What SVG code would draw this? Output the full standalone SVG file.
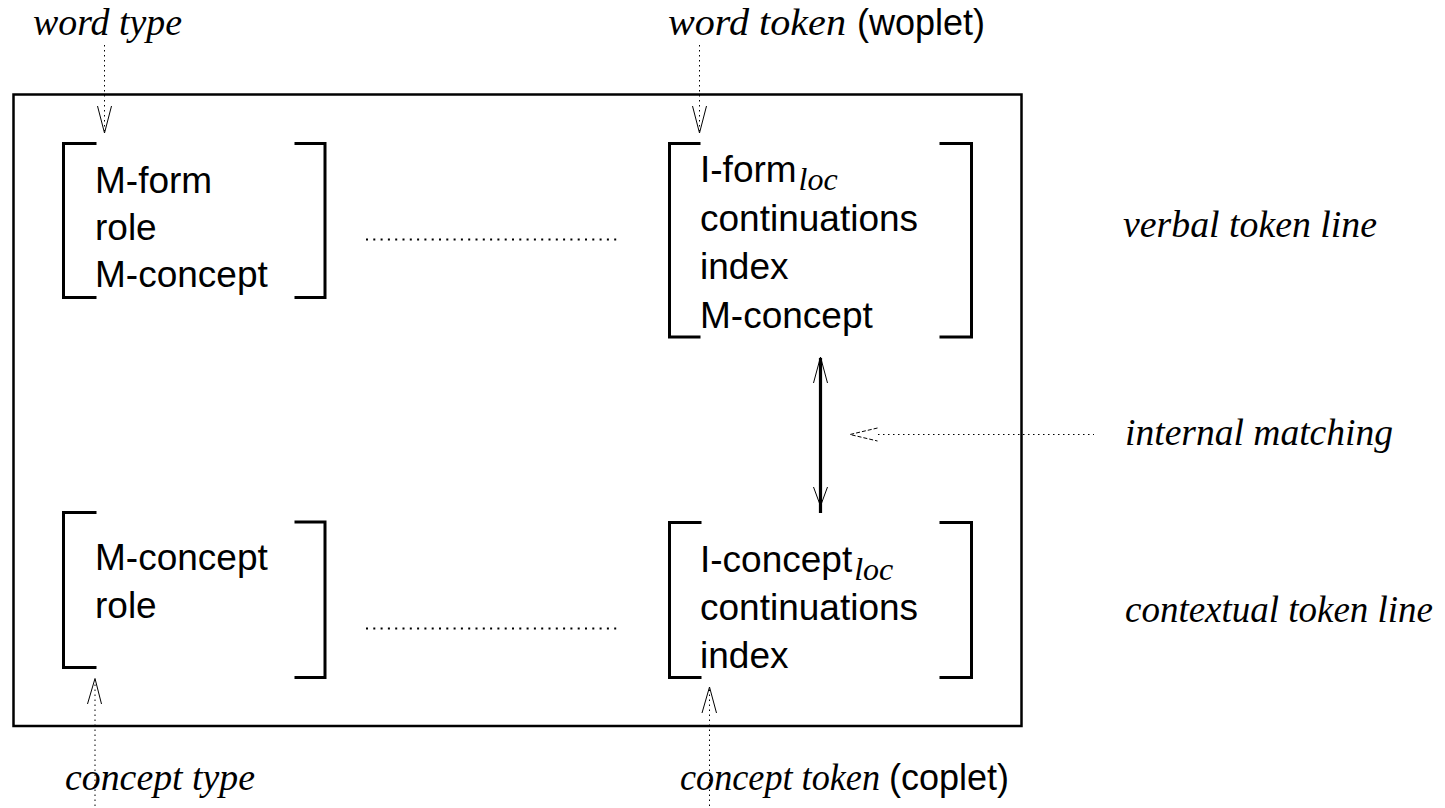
<svg xmlns="http://www.w3.org/2000/svg" width="1445" height="808" viewBox="0 0 1445 808">
  <style>
    .frame { fill: none; stroke: #000; stroke-width: 2.5; }
    .bracket { fill: none; stroke: #000; stroke-width: 3; stroke-linecap: square; }
    .field { font-family: "Liberation Sans", Arial, sans-serif; font-size: 37px; fill: #000; }
    .label { font-family: "Liberation Serif", "Times New Roman", serif; font-style: italic; font-size: 37px; fill: #000; }
    .plain { font-family: "Liberation Sans", Arial, sans-serif; font-size: 36px; fill: #000; }
    .sub { font-family: "Liberation Serif", "Times New Roman", serif; font-style: italic; font-size: 32px; }
    .lead { fill: none; stroke: #000; stroke-width: 1; stroke-dasharray: 1.5 3.5; }
    .link { fill: none; stroke: #000; stroke-width: 2; stroke-dasharray: 2 5.3; }
    .head { fill: none; stroke: #000; stroke-width: 1; }
    .match { fill: none; stroke: #000; stroke-width: 3.2; }
  </style>

  <!-- outer frame -->
  <rect class="frame" x="13.5" y="94.5" width="1008" height="631.5"/>

  <!-- word type -->
  <g id="word-type">
    <path class="bracket" d="M95,143.5 H63.5 V297.5 H95"/>
    <path class="bracket" d="M296,143.5 H325 V297.5 H296"/>
    <text class="field" x="95" y="193">M-form</text>
    <text class="field" x="95" y="240">role</text>
    <text class="field" x="95" y="287">M-concept</text>
  </g>

  <!-- word token (woplet) -->
  <g id="word-token">
    <path class="bracket" d="M699,143.5 H669.5 V337 H699"/>
    <path class="bracket" d="M941,143.5 H971.5 V337 H941"/>
    <text class="field" x="700" y="182">I-form<tspan class="sub" dx="2" dy="8">loc</tspan></text>
    <text class="field" x="700" y="231">continuations</text>
    <text class="field" x="700" y="279">index</text>
    <text class="field" x="700" y="328">M-concept</text>
  </g>

  <!-- concept type -->
  <g id="concept-type">
    <path class="bracket" d="M95,512.5 H63.5 V667.5 H95"/>
    <path class="bracket" d="M296,522 H325 V677.5 H296"/>
    <text class="field" x="95" y="570">M-concept</text>
    <text class="field" x="95" y="618">role</text>
  </g>

  <!-- concept token (coplet) -->
  <g id="concept-token">
    <path class="bracket" d="M700,522.5 H669.5 V677.5 H700"/>
    <path class="bracket" d="M941,522.5 H971.5 V677.5 H941"/>
    <text class="field" x="700" y="572">I-concept<tspan class="sub" dx="2" dy="8">loc</tspan></text>
    <text class="field" x="700" y="620">continuations</text>
    <text class="field" x="700" y="668">index</text>
  </g>

  <!-- outside labels -->
  <g id="labels">
    <text class="label" x="33" y="35" textLength="149" lengthAdjust="spacingAndGlyphs">word type</text>
    <text class="label" x="668" y="35" textLength="178" lengthAdjust="spacingAndGlyphs">word token</text>
    <text class="plain" x="857" y="35">(woplet)</text>
    <text class="label" x="65" y="790" textLength="190" lengthAdjust="spacingAndGlyphs">concept type</text>
    <text class="label" x="680" y="790" textLength="200" lengthAdjust="spacingAndGlyphs">concept token</text>
    <text class="plain" x="889" y="790">(coplet)</text>
    <text class="label" x="1123" y="237" textLength="254" lengthAdjust="spacingAndGlyphs">verbal token line</text>
    <text class="label" x="1125" y="445" textLength="268" lengthAdjust="spacingAndGlyphs">internal matching</text>
    <text class="label" x="1125" y="622" textLength="308" lengthAdjust="spacingAndGlyphs">contextual token line</text>
  </g>

  <!-- connectors -->
  <g id="connectors">
    <!-- label pointers -->
    <path class="lead" d="M104.5,45 V131"/>
    <path class="head" d="M97.5,106 L104.5,133 L111.5,106"/>
    <path class="lead" d="M699.5,45 V131"/>
    <path class="head" d="M692.5,106 L699.5,133 L706.5,106"/>
    <path class="lead" d="M95,806 V681"/>
    <path class="head" d="M87.5,704 L95,678.5 L101.5,704"/>
    <path class="lead" d="M709.5,806 V689"/>
    <path class="head" d="M702,713 L709.5,687 L716.5,713"/>

    <!-- type / token correspondence -->
    <path class="link" d="M366,239.5 H621"/>
    <path class="link" d="M366,628.5 H621"/>

    <!-- internal matching -->
    <path class="match" d="M820.5,358 V513"/>
    <path class="head" d="M813.5,383 L820.5,357 L827.5,383"/>
    <path class="head" d="M813.5,487 L820.5,506 L827.5,487"/>
    <path class="lead" d="M878,434.5 H1094"/>
    <path class="head" d="M877.5,428 L850,434.5 L877.5,441" stroke-width="1.5" stroke-dasharray="4 2"/>
  </g>
</svg>
